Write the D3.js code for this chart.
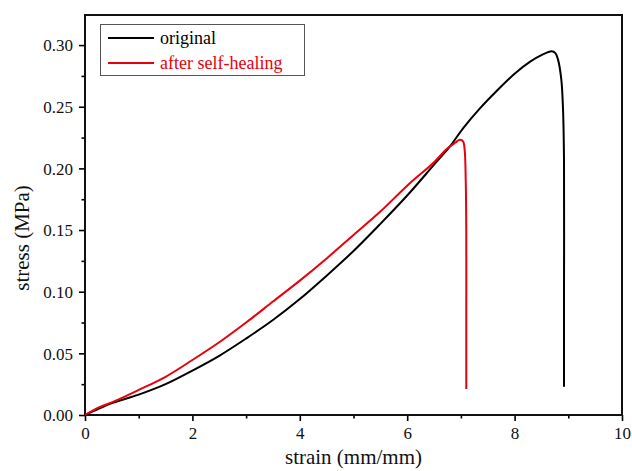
<!DOCTYPE html>
<html><head><meta charset="utf-8">
<script src="https://cdn.jsdelivr.net/npm/d3@7"></script>
<style>body{margin:0;background:#fff}svg{display:block}svg text{font-family:'Liberation Serif','Times New Roman',serif !important}</style>
</head><body><svg id="c" width="632" height="471"></svg>
<script>
const seriesNames = ["original", "after self-healing"];
const seriesColors = ["#000000", "#e8000b"];
const originalStrain = [0,0.25,0.53,1.0,1.5,2.0,2.5,3.0,3.5,4.0,4.5,5.0,5.5,6.0,6.5,6.8,7.04,7.35,7.67,8.0,8.29,8.5,8.69,8.76,8.81,8.87,8.9,8.92,8.92,8.92];
const originalStress = [0,0.005,0.010,0.0165,0.025,0.036,0.048,0.062,0.077,0.094,0.113,0.133,0.155,0.178,0.203,0.218,0.2325,0.2485,0.263,0.2768,0.2866,0.2918,0.2950,0.2935,0.288,0.272,0.25,0.207,0.10,0.023];
const healedStrain = [0,0.25,0.53,1.0,1.5,2.0,2.5,3.0,3.5,4.0,4.5,5.0,5.5,6.0,6.5,6.73,6.9,6.98,7.04,7.07,7.09,7.1,7.1,7.1];
const healedStress = [0,0.006,0.0108,0.0203,0.031,0.0446,0.059,0.075,0.092,0.109,0.127,0.146,0.165,0.186,0.205,0.2155,0.221,0.2232,0.222,0.215,0.19,0.15,0.08,0.021];
const xTicks = [0,2,4,6,8,10];
const yTicks = [0,0.05,0.10,0.15,0.20,0.25,0.30];
const xLabel = "strain (mm/mm)";
const yLabel = "stress (MPa)";

const svg = d3.select("#c");
const L = 85, R = 622, T = 15, B = 415;
const x = d3.scaleLinear().domain([0,10]).range([L,R]);
const y = d3.scaleLinear().domain([0,0.3244]).range([B,T]);
const FONT = "'Liberation Serif','Times New Roman',serif";

const xMinor = d3.range(1,10,2);
const yMinor = d3.range(0.025,0.32,0.05);
const gx = svg.append("g").attr("transform",`translate(0,${B})`);
gx.call(d3.axisBottom(x).tickValues(xTicks).tickFormat(d3.format("d")).tickSize(6).tickSizeOuter(0));
gx.append("g").call(d3.axisBottom(x).tickValues(xMinor).tickFormat("").tickSize(3.5).tickSizeOuter(0)).select(".domain").remove();
const gy = svg.append("g").attr("transform",`translate(${L},0)`);
gy.call(d3.axisLeft(y).tickValues(yTicks).tickFormat(d3.format(".2f")).tickSize(6).tickSizeOuter(0));
gy.append("g").call(d3.axisLeft(y).tickValues(yMinor).tickFormat("").tickSize(3.5).tickSizeOuter(0)).select(".domain").remove();
svg.selectAll("g").attr("font-family",FONT);
svg.selectAll(".tick line").attr("stroke","#000").attr("stroke-width",1.6);
svg.selectAll(".domain").remove();
svg.selectAll(".tick text").attr("font-size",17).attr("fill","#111").attr("font-family",FONT);
gx.selectAll(".tick text").attr("dy","0.95em").attr("y",8);
gy.selectAll(".tick text").attr("x",-12).attr("dy","0.34em");

svg.append("rect").attr("x",L).attr("y",T).attr("width",R-L).attr("height",B-T)
  .attr("fill","none").attr("stroke","#111").attr("stroke-width",2);

const line = d3.line().x(d=>x(d[0])).y(d=>y(d[1])).curve(d3.curveCatmullRom.alpha(0.5));
const data = [originalStrain.map((s,i)=>[s,originalStress[i]]), healedStrain.map((s,i)=>[s,healedStress[i]])];
const g = svg.append("g");
data.forEach((d,i)=>{
  g.append("path").datum(d).attr("d",line).attr("fill","none")
   .attr("stroke",seriesColors[i]).attr("stroke-width",2).attr("stroke-linejoin","round");
});

const lg = svg.append("g").attr("font-family",FONT);
lg.append("rect").attr("x",100.5).attr("y",24.5).attr("width",204).attr("height",51)
  .attr("fill","#fff").attr("stroke","#555").attr("stroke-width",1);
seriesNames.forEach((n,i)=>{
  const yy = 38 + i*25;
  lg.append("line").attr("x1",108).attr("x2",154).attr("y1",yy).attr("y2",yy)
    .attr("stroke",seriesColors[i]).attr("stroke-width",2);
  lg.append("text").attr("x",160).attr("y",yy+6).attr("font-size",18)
    .attr("fill",seriesColors[i]).text(n);
});

svg.append("text").attr("x",(L+R)/2).attr("y",464).attr("text-anchor","middle")
  .attr("font-family",FONT).attr("font-size",21).attr("fill","#111").text(xLabel);
svg.append("text").attr("transform",`translate(29,${(T+B)/2+23}) rotate(-90)`)
  .attr("font-family",FONT).attr("text-anchor","middle").attr("font-size",21).attr("fill","#111").text(yLabel);
</script></body></html>
